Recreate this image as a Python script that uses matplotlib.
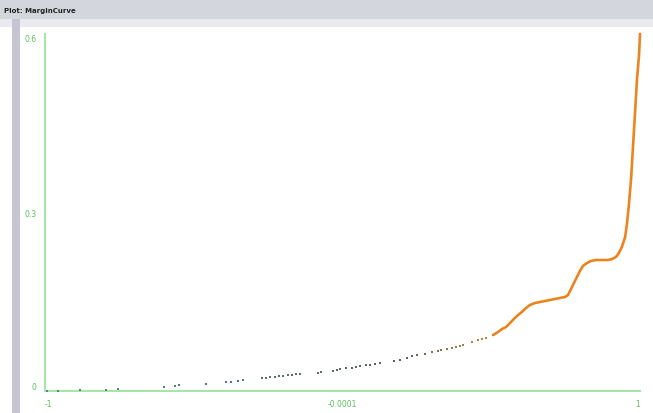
import matplotlib.pyplot as plt
from matplotlib.colors import LinearSegmentedColormap
from matplotlib.patches import Rectangle

# margin values (x) and their curve values (y), sorted
margin = [-0.993, -0.956, -0.882, -0.795, -0.755, -0.600, -0.563, -0.550, -0.459,
          -0.392, -0.375, -0.351, -0.334, -0.271, -0.257, -0.244, -0.227, -0.213,
          -0.200, -0.183, -0.170, -0.156, -0.143, -0.082, -0.072, -0.032, -0.018,
          -0.008, 0.012, 0.032, 0.045, 0.059, 0.079, 0.092, 0.109, 0.126, 0.173,
          0.193, 0.217, 0.234, 0.250, 0.277, 0.301, 0.321, 0.331, 0.351, 0.368,
          0.382, 0.395, 0.405, 0.435, 0.455, 0.469, 0.482,
          0.506, 0.523, 0.536, 0.550, 0.563, 0.576, 0.590, 0.603, 0.617, 0.630,
          0.647, 0.664, 0.681, 0.697, 0.714, 0.731, 0.748, 0.758, 0.768, 0.778,
          0.788, 0.798, 0.808, 0.822, 0.835, 0.852, 0.872, 0.892, 0.906, 0.919,
          0.929, 0.939, 0.950, 0.956, 0.963, 0.970, 0.976, 0.983, 0.990, 0.997, 1.000]
curve = [0.0, 0.0, 0.0017, 0.0017, 0.0034, 0.0067, 0.0084, 0.0101, 0.0118,
         0.0151, 0.0151, 0.0168, 0.0185, 0.0218, 0.0218, 0.0235, 0.0235, 0.0252,
         0.0252, 0.0269, 0.0269, 0.0286, 0.0286, 0.0303, 0.0319, 0.0336, 0.0353,
         0.0370, 0.0387, 0.0387, 0.0403, 0.0420, 0.0437, 0.0437, 0.0454, 0.0471, 0.0504,
         0.0521, 0.0555, 0.0588, 0.0605, 0.0622, 0.0655, 0.0672, 0.0689, 0.0706, 0.0723,
         0.0740, 0.0756, 0.0773, 0.0824, 0.0857, 0.0874, 0.0891,
         0.0941, 0.0992, 0.1042, 0.1076, 0.1143, 0.1210, 0.1277, 0.1328, 0.1395, 0.1445,
         0.1479, 0.1496, 0.1513, 0.1529, 0.1546, 0.1563, 0.1580, 0.1613, 0.1714, 0.1815,
         0.1916, 0.2017, 0.2101, 0.2151, 0.2185, 0.2202, 0.2202, 0.2202, 0.2218, 0.2252,
         0.2319, 0.2420, 0.2588, 0.2807, 0.3143, 0.3563, 0.4067, 0.4655, 0.5244, 0.5664, 0.6000]

x_ticks = [-1, 0, 1]
x_labels = ["-1", "-0.0001", "1"]
y_ticks = [0, 0.3, 0.6]
y_labels = ["0", "0.3", "0.6"]

fig = plt.figure(figsize=(6.53, 4.14), dpi=100)
fig.patch.set_facecolor("white")

# window chrome: title bar and left frame
fig.patches.append(Rectangle((0, 1 - 20 / 414), 1, 20 / 414, transform=fig.transFigure,
                             facecolor="#d3d6dd", edgecolor="none"))
fig.patches.append(Rectangle((0, 1 - 28 / 414), 1, 8 / 414, transform=fig.transFigure,
                             facecolor="#eaeaee", edgecolor="none"))
fig.patches.append(Rectangle((12 / 653, 0), 8 / 653, 1 - 20 / 414, transform=fig.transFigure,
                             facecolor="#c4c5d0", edgecolor="none"))
fig.text(4 / 653, 1 - 11 / 414, "Plot: MarginCurve", fontsize=5, color="#222222",
         fontweight="bold", va="center", ha="left")

ax = fig.add_axes([45 / 653, 22 / 414, 595 / 653, 357 / 414])
ax.set_xlim(-1, 1)
ax.set_ylim(0, 0.6)

cmap = LinearSegmentedColormap.from_list(
    "margin", [(0.0, "#4a8a9c"), (0.35, "#567378"), (0.6, "#5e5e5e"),
               (0.72, "#a8844a"), (0.76, "#e8821e"), (1.0, "#ee7f18")])

# dense right part drawn as a connected orange line
right = [i for i, m in enumerate(margin) if m >= 0.5]
ax.plot([margin[i] for i in right], [curve[i] for i in right], color="#ec8420",
        lw=1.9, solid_capstyle="round", clip_on=False, zorder=2)
ax.scatter(margin, curve, c=margin, cmap=cmap, vmin=-1, vmax=1, marker="s", s=3,
           edgecolors="none", clip_on=False, zorder=3)

for side in ["top", "right"]:
    ax.spines[side].set_visible(False)
for side in ["left", "bottom"]:
    ax.spines[side].set_color("#a6e6a6")
    ax.spines[side].set_linewidth(1.5)

ax.set_xticks(x_ticks)
ax.set_xticklabels(x_labels)
ax.set_yticks(y_ticks)
ax.set_yticklabels(y_labels)
ax.tick_params(length=0, labelsize=5.5, labelcolor="#5cbf5c", pad=6)
xl = ax.get_xticklabels()
xl[0].set_ha("left")
xl[-1].set_ha("right")
yl = ax.get_yticklabels()
yl[0].set_va("bottom")
yl[-1].set_va("top")

fig.savefig("out.png", dpi=100)
